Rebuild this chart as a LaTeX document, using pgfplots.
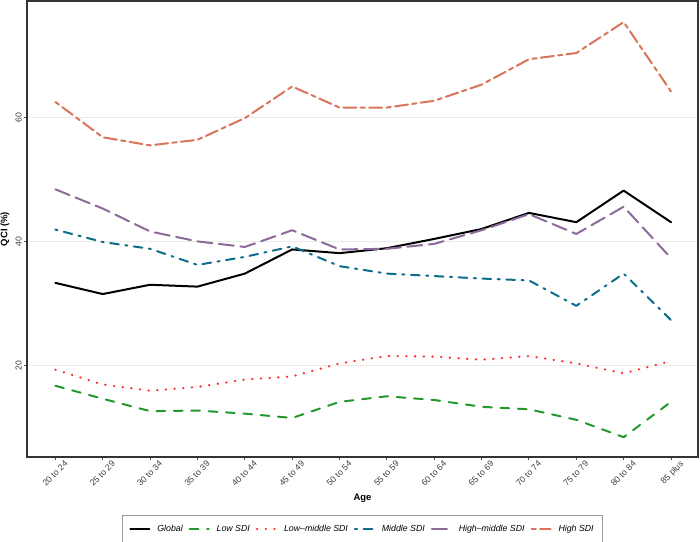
\documentclass[border=0pt]{standalone}
\usepackage{pgfplots}
\pgfplotsset{compat=1.18}
\usepackage{pgfplotstable}
\usepackage{fontspec}
\setmainfont{Liberation Sans}
\definecolor{cglob}{HTML}{000000}
\definecolor{clow}{HTML}{22992A}
\definecolor{clowmid}{HTML}{FF2A2A}
\definecolor{cmid}{HTML}{0D6C8C}
\definecolor{chighmid}{HTML}{8C6B9B}
\definecolor{chigh}{HTML}{D9735A}
\definecolor{gridc}{HTML}{EBEBEB}
\definecolor{framec}{HTML}{333333}
\definecolor{tickc}{HTML}{4D4D4D}
\pgfplotstableread{
x glob low lowmid mid highmid high
0 33.3 16.7 19.3 41.9 48.4 62.5
1 31.5 14.6 16.9 39.9 45.3 56.8
2 33.0 12.6 15.9 38.8 41.6 55.5
3 32.7 12.7 16.5 36.2 40.0 56.4
4 34.8 12.2 17.7 37.5 39.1 59.9
5 38.7 11.5 18.2 39.2 41.8 65.0
6 38.1 14.1 20.3 36.0 38.7 61.6
7 38.9 15.0 21.5 34.8 38.8 61.6
8 40.4 14.4 21.4 34.4 39.6 62.7
9 42.0 13.3 20.9 34.0 41.8 65.3
10 44.6 12.9 21.5 33.7 44.4 69.4
11 43.1 11.2 20.3 29.6 41.2 70.4
12 48.2 8.4 18.7 34.8 45.6 75.4
13 43.1 14.1 20.7 27.3 37.3 64.2
}\data
\begin{document}
\begin{tikzpicture}
\useasboundingbox (0,0) rectangle (700bp,542bp);
\begin{axis}[
  at={(27bp,85bp)}, anchor=south west,
  width=671bp, height=456bp, scale only axis,
  xmin=-0.6, xmax=13.57, ymin=5.2, ymax=78.8,
  xtick={0,...,13},
  xticklabels={20 to 24,25 to 29,30 to 34,35 to 39,40 to 44,45 to 49,50 to 54,55 to 59,60 to 64,65 to 69,70 to 74,75 to 79,80 to 84,85 plus},
  ytick={20,40,60},
  ymajorgrids, grid style={gridc, line width=1bp},
  axis line style={framec, line width=1.1bp},
  tick align=outside, tickpos=left,
  major tick length=3bp,
  tick style={tickc, line width=1bp},
  /pgf/number format/assume math mode=true,
  ticklabel style={font=\fontsize{8.7}{9}\selectfont, text=black!75},
  xticklabel style={rotate=45, anchor=north east, inner sep=1bp, xshift=7bp, yshift=-5bp},
  yticklabel style={rotate=90, anchor=south, inner sep=2bp},
  xlabel={Age}, ylabel={QCI (\%)},
  label style={font=\bfseries\fontsize{9.5}{10}\selectfont},
  xlabel style={at={(0.5,-0.0899)}, anchor=center},
  ylabel style={at={(-0.0328,0.5)}, anchor=center, rotate=0},
  legend columns=6,
  legend style={at={(0.5,-0.1272)}, anchor=north, draw=gray!80, line width=0.8bp,
    font=\itshape\fontsize{8.8}{10}\selectfont, inner xsep=6.5bp, inner ysep=8bp,
    /tikz/every odd column/.append style={column sep=5bp},
    /tikz/every even column/.append style={column sep=4bp}},
  legend image code/.code={\draw[#1] (0bp,0bp) -- (19bp,0bp);},
  every axis plot/.append style={line width=2bp, line cap=round, line join=round},
]
\addplot[cglob] table[x=x,y=glob] {\data};
\addlegendentry{Global}
\addplot[clow, dash pattern=on 8.7bp off 8.7bp] table[x=x,y=low] {\data};
\addlegendentry{Low SDI}
\addplot[clowmid, line width=2.3bp, dash pattern=on 0.3bp off 8.4bp] table[x=x,y=lowmid] {\data};
\addlegendentry{Low--middle SDI}
\addplot[cmid, dash pattern=on 2.17bp off 6.5bp on 8.7bp off 6.5bp] table[x=x,y=mid] {\data};
\addlegendentry{Middle SDI}
\addplot[chighmid, dash pattern=on 15.2bp off 6.5bp] table[x=x,y=highmid] {\data};
\addlegendentry{High--middle SDI}
\addplot[chigh, dash pattern=on 4.3bp off 4.3bp on 13bp off 4.3bp] table[x=x,y=high] {\data};
\addlegendentry{High SDI}
\end{axis}
\end{tikzpicture}
\end{document}
